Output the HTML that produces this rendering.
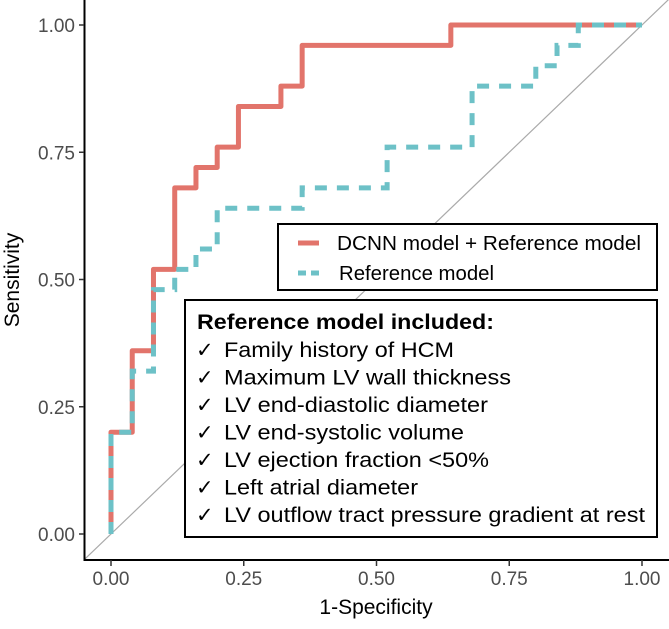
<!DOCTYPE html>
<html><head><meta charset="utf-8"><style>
body{margin:0;background:#fff}
svg text{font-family:"Liberation Sans",Arial,sans-serif}
</style></head><body>
<svg id="chart" width="669" height="624" viewBox="0 0 669 624">
<g id="grid"></g>
<line x1="84.5" y1="560" x2="669" y2="560" stroke="#000" stroke-width="2"/>
<line x1="84.5" y1="0" x2="84.5" y2="561" stroke="#000" stroke-width="2"/>
<g id="ticks"></g>
<g id="series"></g>
<text x="376" y="614" font-size="21" text-anchor="middle">1-Specificity</text>
<text transform="translate(19,280) rotate(-90)" font-size="21" text-anchor="middle">Sensitivity</text>
<g>
<rect x="278" y="224" width="379" height="66" fill="#fff" stroke="#000" stroke-width="2"/>
<line x1="298" y1="243" x2="319" y2="243" stroke="#E2746B" stroke-width="5"/>
<text x="337" y="250" font-size="20" textLength="304" lengthAdjust="spacingAndGlyphs">DCNN model + Reference model</text>
<line x1="298" y1="273" x2="319" y2="273" stroke="#6DC1C7" stroke-width="5" stroke-dasharray="8,5"/>
<text x="339" y="280" font-size="20" textLength="155" lengthAdjust="spacingAndGlyphs">Reference model</text>
</g>
<g>
<rect x="185" y="300" width="472" height="237" fill="#fff" stroke="#000" stroke-width="2"/>
<g id="vars" font-size="21"></g>
</g>
</svg>
<script>
const fprDCNN=[0,0,0.04,0.04,0.08,0.08,0.12,0.12,0.16,0.16,0.20,0.20,0.24,0.24,0.32,0.32,0.36,0.36,0.64,0.64,1];
const tprDCNN=[0,0.20,0.20,0.36,0.36,0.52,0.52,0.68,0.68,0.72,0.72,0.76,0.76,0.84,0.84,0.88,0.88,0.96,0.96,1,1];
const fprRef=[0,0,0.04,0.04,0.08,0.08,0.12,0.12,0.16,0.16,0.20,0.20,0.36,0.36,0.52,0.52,0.68,0.68,0.80,0.80,0.84,0.84,0.88,0.88,1];
const tprRef=[0,0.20,0.20,0.32,0.32,0.48,0.48,0.52,0.52,0.56,0.56,0.64,0.64,0.68,0.68,0.76,0.76,0.88,0.88,0.92,0.92,0.96,0.96,1,1];
const xTicks=[0,0.25,0.5,0.75,1];
const xTickLabels=["0.00","0.25","0.50","0.75","1.00"];
const yTicks=[0,0.25,0.5,0.75,1];
const yTickLabels=["0.00","0.25","0.50","0.75","1.00"];
const variables=["Family history of HCM","Maximum LV wall thickness","LV end-diastolic diameter","LV end-systolic volume","LV ejection fraction <50%","Left atrial diameter","LV outflow tract pressure gradient at rest"];
const varWidths=[230,287,264,240,265,194,421];
const NS="http://www.w3.org/2000/svg";
function sx(v){return 111+531*v;}
function sy(v){return 534-509*v;}
function mk(tag,attrs,parent){const e=document.createElementNS(NS,tag);for(const k in attrs)e.setAttribute(k,attrs[k]);parent.appendChild(e);return e;}
const grid=document.getElementById('grid');
const diag=mk('line',{x1:sx(-0.05),y1:sy(-0.05),x2:sx(1.05),y2:sy(1.05),stroke:'#aaa','stroke-width':1.2},grid);


const ticks=document.getElementById('ticks');
xTicks.forEach((t,i)=>{
  const l=mk('line',{x1:sx(t),y1:560,x2:sx(t),y2:566,stroke:'#333','stroke-width':1.5},ticks);
  
  
  const tx=mk('text',{x:sx(t),y:585,'font-size':19,'text-anchor':'middle',fill:'#4d4d4d'},ticks);
  tx.textContent=xTickLabels[i];
  
  
});
yTicks.forEach((t,i)=>{
  const l=mk('line',{x1:79,y1:sy(t),x2:84,y2:sy(t),stroke:'#333','stroke-width':1.5},ticks);
  
  
  const tx=mk('text',{x:75,y:sy(t)+7,'font-size':19,'text-anchor':'end',fill:'#4d4d4d'},ticks);
  tx.textContent=yTickLabels[i];
  
  
});
const series=document.getElementById('series');
function pts(xs,ys){return xs.map((x,i)=>sx(x)+','+sy(ys[i])).join(' ');}
const p1=mk('polyline',{points:pts(fprDCNN,tprDCNN),fill:'none',stroke:'#E2746B','stroke-width':5,'stroke-linejoin':'round'},series);


const p2=mk('polyline',{points:pts(fprRef,tprRef),fill:'none',stroke:'#6DC1C7','stroke-width':5,'stroke-dasharray':'12,10'},series);


const vars=document.getElementById('vars');
const title=mk('text',{x:197,y:329,'font-weight':'bold',textLength:297,lengthAdjust:'spacingAndGlyphs'},vars);
title.textContent='Reference model included:';


variables.forEach((v,i)=>{
  const c=mk('text',{x:196,y:357+27.5*i},vars);
  c.textContent='\u2713';
  
  
  const t=mk('text',{x:224,y:357+27.5*i,textLength:varWidths[i],lengthAdjust:'spacingAndGlyphs'},vars);
  t.textContent=v;
  
  
});
</script>
</body></html>
